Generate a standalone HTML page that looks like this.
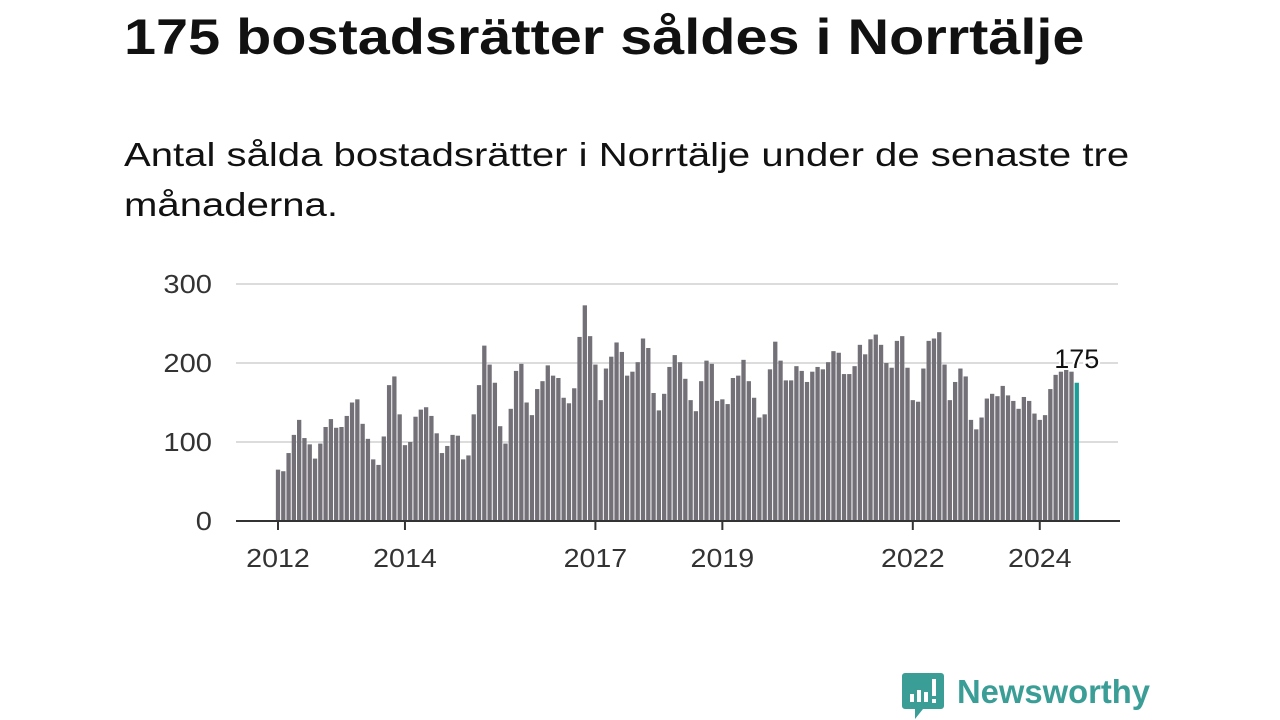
<!DOCTYPE html>
<html><head><meta charset="utf-8">
<style>
body{margin:0;width:1280px;height:720px;background:#fff;overflow:hidden;font-family:"Liberation Sans","DejaVu Sans",sans-serif;}
#title{position:absolute;left:124px;top:8px;font-size:50px;font-weight:bold;color:#111;margin:0;white-space:nowrap;transform:scaleX(1.152);transform-origin:left top}
#sub{position:absolute;left:124px;top:130px;font-size:33px;color:#111;line-height:50px;margin:0;white-space:nowrap;transform:scaleX(1.215);transform-origin:left top}
svg{position:absolute;left:0;top:0}
</style></head><body>
<h1 id="title">175 bostadsrätter såldes i Norrtälje</h1>
<p id="sub">Antal sålda bostadsrätter i Norrtälje under de senaste tre<br>månaderna.</p>
<svg id="chart" width="1280" height="720">
<g id="grid"></g><g id="bars"></g><g id="axis"></g>
<g>
<path d="M905 673 h36 a3 3 0 0 1 3 3 v30 a3 3 0 0 1 -3 3 h-18 l-8 10 v-10 h-10 a3 3 0 0 1 -3 -3 v-30 a3 3 0 0 1 3 -3z" fill="#3a9e97"/>
<rect x="910" y="694" width="4" height="8" fill="#fff"/><rect x="917" y="690" width="4" height="12" fill="#fff"/><rect x="924" y="692" width="4" height="10" fill="#fff"/><rect x="932" y="679" width="4" height="17" fill="#fff"/><rect x="932" y="699" width="4" height="4" fill="#fff"/>
<text x="957" y="703" font-size="33" font-weight="bold" fill="#3a9e97" font-family="Liberation Sans, sans-serif" textLength="193" lengthAdjust="spacingAndGlyphs">Newsworthy</text>
</g>
</svg>
<script>
const yTicks=[0,100,200,300];
const xTickLabels=["2012","2014","2017","2019","2022","2024"];
const xTickIdx=[0,24,60,84,120,144];
const values=[65,63,86,109,128,105,97,79,98,119,129,118,119,133,150,154,123,104,78,71,107,172,183,135,96,100,132,141,144,133,111,86,95,109,108,78,83,135,172,222,
198,175,120,98,142,190,199,150,134,167,177,197,184,181,156,149,168,233,273,234,198,153,193,208,226,214,184,189,201,231,219,162,140,161,195,210,201,180,153,139,
177,203,199,152,154,148,181,184,204,177,156,131,135,192,227,203,178,178,196,190,176,189,195,192,201,215,213,186,186,196,223,211,230,236,223,200,194,228,234,194,
153,151,193,228,231,239,198,153,176,193,183,128,116,131,155,161,158,171,159,152,142,157,152,136,128,134,167,185,189,193,189,175];
const NS="http://www.w3.org/2000/svg";
const y0=521,yScale=0.79,x0=278,step=5.29,bw=4.3;
const y=v=>y0-v*yScale, x=i=>x0+i*step;
function mk(t,a,p){const e=document.createElementNS(NS,t);for(const k in a)e.setAttribute(k,a[k]);p.appendChild(e);return e;}
const grid=document.getElementById('grid'),bars=document.getElementById('bars'),axis=document.getElementById('axis');
yTicks.forEach(v=>{
 if(v>0){const l=mk('line',{x1:236,x2:1118,y1:y(v),y2:y(v),stroke:'#dcdcdc','stroke-width':2},grid);
 
 }
 const t=mk('text',{x:212,y:y(v)+9,'text-anchor':'end','font-size':26,fill:'#333',transform:'translate(212 0) scale(1.12 1) translate(-212 0)'},grid);t.textContent=v;
 
 
});
values.forEach((v,i)=>{
 const last=i===values.length-1;
 const r=mk('rect',{x:x(i)-bw/2,y:y(v),width:bw,height:v*yScale,fill:last?'#1a9e96':'#737077'},bars);
 
 
});
const li=values.length-1;
const lab=mk('text',{x:x(li),y:y(values[li])-15,'text-anchor':'middle','font-size':27,fill:'#111',stroke:'#fff','stroke-width':4,'paint-order':'stroke'},bars);
lab.textContent=values[li];


const ax=mk('line',{x1:236,x2:1120,y1:y0,y2:y0,stroke:'#333','stroke-width':2},axis);


xTickIdx.forEach((idx,k)=>{
 mk('line',{x1:x(idx),x2:x(idx),y1:y0,y2:y0+9,stroke:'#333','stroke-width':2},axis);
 const t=mk('text',{x:x(idx),y:567,'text-anchor':'middle','font-size':26,fill:'#333',transform:`translate(${x(idx)} 0) scale(1.1 1) translate(${-x(idx)} 0)`},axis);t.textContent=xTickLabels[k];
 
 
});
</script>
</body></html>
